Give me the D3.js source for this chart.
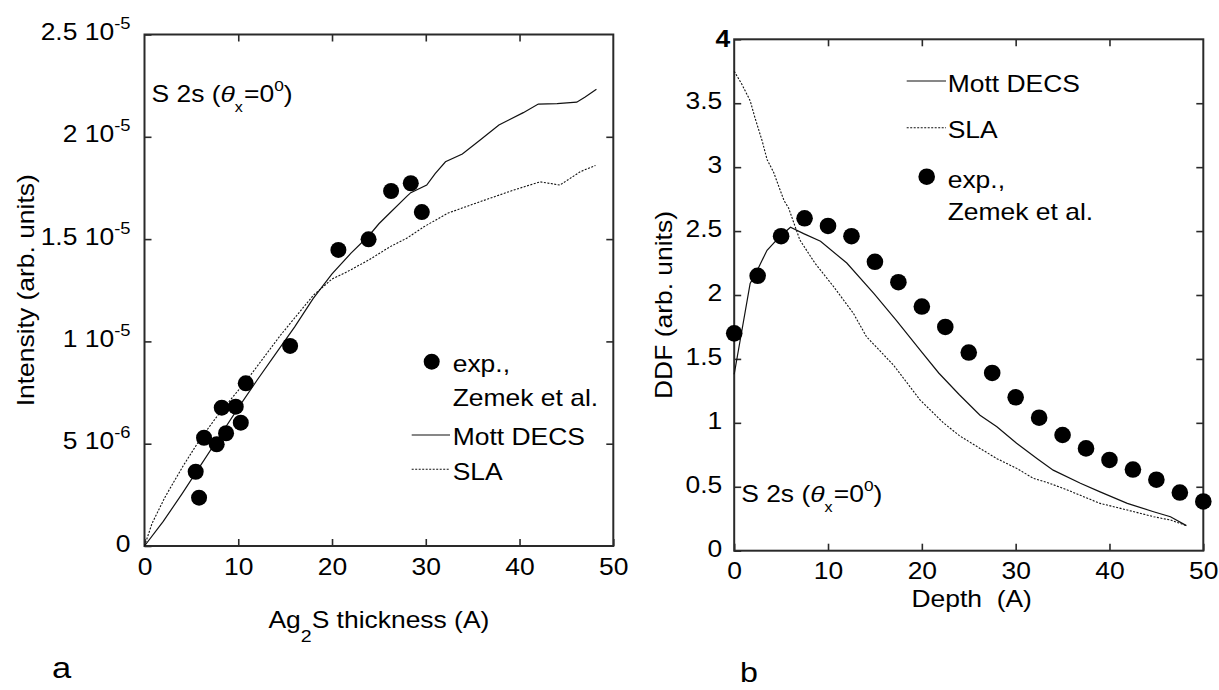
<!DOCTYPE html>
<html><head><meta charset="utf-8">
<script src="https://cdn.jsdelivr.net/npm/d3@7/dist/d3.min.js"></script>
<style>html,body{margin:0;padding:0;background:#fff;}svg{display:block;}</style>
</head><body>
<svg id="chart" width="1219" height="690"></svg>
<script>
// ---------- DATA (panel a) ----------
const expThick = [5.46, 5.82, 6.35, 7.7, 8.24, 8.7, 9.73, 10.27, 10.8, 15.53, 20.68, 23.9, 26.3, 28.4, 29.58];
const expIntensity = [3.63e-6, 2.36e-6, 5.29e-6, 4.97e-6, 6.76e-6, 5.51e-6, 6.81e-6, 6.03e-6, 7.95e-6, 9.78e-6, 14.47e-6, 14.99e-6, 17.35e-6, 17.73e-6, 16.32e-6];
const mottThick = [0, 2, 4, 6, 8, 10, 12, 14, 16, 18, 19, 20, 22, 24, 25, 26, 28, 28.4, 30.1, 31, 32.1, 33.9, 35.8, 37.8, 40.4, 42.0, 44, 46.1, 47, 48.2];
const mottIntensity = [0, 1.2e-6, 2.55e-6, 3.95e-6, 5.35e-6, 6.75e-6, 8.1e-6, 9.4e-6, 10.7e-6, 12.1e-6, 12.7e-6, 13.3e-6, 14.3e-6, 15.2e-6, 15.75e-6, 16.2e-6, 17.1e-6, 17.27e-6, 17.64e-6, 18.2e-6, 18.78e-6, 19.16e-6, 19.84e-6, 20.58e-6, 21.18e-6, 21.6e-6, 21.62e-6, 21.69e-6, 21.95e-6, 22.32e-6];
const slaThick = [0, 0.8, 2.2, 4.1, 5.9, 8, 10.9, 14.5, 18, 20, 21.6, 24, 26.2, 28, 29.8, 32.3, 35.8, 39.4, 42.2, 44.3, 46.5, 48.1];
const slaIntensity = [0, 1.1e-6, 2.4e-6, 3.9e-6, 5.2e-6, 6.5e-6, 8.1e-6, 10.3e-6, 12.25e-6, 13.05e-6, 13.4e-6, 14.0e-6, 14.63e-6, 15.05e-6, 15.6e-6, 16.26e-6, 16.83e-6, 17.4e-6, 17.8e-6, 17.64e-6, 18.3e-6, 18.6e-6];
const aXTicks = [0, 10, 20, 30, 40, 50];
const aYTicks = [0, 5e-6, 1e-5, 1.5e-5, 2e-5, 2.5e-5];
const aYTickMant = ["0", "5 10", "1 10", "1.5 10", "2 10", "2.5 10"];
const aYTickExp = ["", "-6", "-5", "-5", "-5", "-5"];

// ---------- DATA (panel b) ----------
const expDepth = [0, 2.5, 5, 7.5, 10, 12.5, 15, 17.5, 20, 22.5, 25, 27.5, 30, 32.5, 35, 37.5, 40, 42.5, 45, 47.5, 50];
const expDDF = [1.70, 2.15, 2.46, 2.60, 2.54, 2.46, 2.26, 2.10, 1.91, 1.75, 1.55, 1.39, 1.20, 1.04, 0.905, 0.80, 0.71, 0.635, 0.555, 0.455, 0.385];
const mottDepth = [0, 1.7, 2.5, 3.5, 4.9, 6.0, 7.4, 9.2, 12.0, 14.9, 17.3, 19.8, 21.8, 24.0, 26.2, 28.0, 30.1, 32.3, 34.0, 36.9, 39.0, 41.9, 44.7, 46.5, 48.2];
const mottDDF = [1.38, 2.09, 2.2, 2.35, 2.46, 2.53, 2.48, 2.42, 2.25, 2.01, 1.80, 1.57, 1.39, 1.22, 1.06, 0.97, 0.84, 0.72, 0.63, 0.527, 0.46, 0.37, 0.305, 0.266, 0.196];
const slaDepth = [0, 0.8, 1.7, 2.2, 3.0, 3.5, 4.2, 5.3, 5.8, 7.0, 8.6, 10.6, 12.7, 14.1, 17.0, 19.8, 22.3, 24.0, 26.2, 28.0, 30.1, 31.9, 33.5, 35.5, 39.0, 41.9, 44.7, 46.5, 48.2];
const slaDDF = [3.75, 3.65, 3.52, 3.39, 3.2, 3.06, 2.96, 2.74, 2.68, 2.43, 2.25, 2.065, 1.857, 1.674, 1.45, 1.18, 1.0, 0.90, 0.80, 0.72, 0.644, 0.566, 0.53, 0.475, 0.37, 0.318, 0.266, 0.24, 0.196];
const bXTicks = [0, 10, 20, 30, 40, 50];
const bYTicks = [0, 0.5, 1, 1.5, 2, 2.5, 3, 3.5, 4];
const bYTickLabels = ["0", "0.5", "1", "1.5", "2", "2.5", "3", "3.5", "4"];

// ---------- STYLE ----------
const FONT = "'Liberation Sans', Arial, Helvetica, sans-serif";
const FS = 23, SX = 1.15;
const AXC = "#2a2a2a", TXT = "#000";
const svg = d3.select("#chart").style("font-family", FONT);

function plotFrame(g, x, y, w, h) {
  g.append("rect").attr("x", x).attr("y", y).attr("width", w).attr("height", h)
    .attr("fill", "none").attr("stroke", AXC).attr("stroke-width", 2);
}
function styleAxis(sel) {
  sel.select(".domain").remove();
  sel.selectAll(".tick line").attr("stroke", AXC).attr("stroke-width", 1.6);
  sel.selectAll(".tick text").attr("fill", TXT).style("font-size", FS + "px").style("font-family", FONT);
}
function thetaLabel(g, x, y) {
  const t = g.append("text").attr("x", x).attr("y", y).attr("fill", TXT).style("font-size", FS + "px");
  t.append("tspan").text("S 2s (");
  t.append("tspan").style("font-style", "italic").style("font-family", "'Liberation Sans', Arial").style("font-weight", "300").text("θ");
  t.append("tspan").attr("dy", 10).style("font-size", "14px").text("x");
  t.append("tspan").attr("dy", -10).attr("dx", 1).text("=0");
  t.append("tspan").attr("dy", -11).style("font-size", "15px").text("0");
  t.append("tspan").attr("dy", 11).text(")");
}

// ================= PANEL A =================
const A = {l: 144.5, r: 613.3, t: 34.5, b: 546};
const xa = d3.scaleLinear().domain([0, 50]).range([A.l, A.r]);
const ya = d3.scaleLinear().domain([0, 2.5e-5]).range([A.b, A.t]);
const ga = svg.append("g");

ga.append("g").attr("transform", `translate(0,${A.b})`)
  .call(d3.axisBottom(xa).tickValues(aXTicks).tickSizeInner(-7).tickSizeOuter(0).tickPadding(13).tickFormat(d => String(d)))
  .call(styleAxis);
ga.append("g").attr("transform", `translate(0,${A.t})`)
  .call(d3.axisTop(xa).tickValues(aXTicks.slice(1, -1)).tickSizeInner(-7).tickSizeOuter(0).tickFormat(""))
  .call(styleAxis);
const ayAxis = ga.append("g").attr("transform", `translate(${A.l},0)`)
  .call(d3.axisLeft(ya).tickValues(aYTicks).tickSizeInner(-7).tickSizeOuter(0).tickPadding(14).tickFormat(""))
  .call(styleAxis);
ayAxis.selectAll(".tick text").attr("dy", "0.22em").each(function(d, i) {
  const t = d3.select(this);
  t.append("tspan").text(aYTickMant[i]);
  if (aYTickExp[i]) t.append("tspan").attr("dy", -11).style("font-size", "16px").text(aYTickExp[i]);
});
ga.append("g").attr("transform", `translate(${A.r},0)`)
  .call(d3.axisRight(ya).tickValues(aYTicks.slice(1, -1)).tickSizeInner(-7).tickSizeOuter(0).tickFormat(""))
  .call(styleAxis);
plotFrame(ga, A.l, A.t, A.r - A.l, A.b - A.t);

const lineA = (xs, ys) => d3.line().x((d, i) => xa(xs[i])).y((d, i) => ya(ys[i]))(xs);
ga.append("path").attr("d", lineA(mottThick, mottIntensity)).attr("fill", "none").attr("stroke", "#111").attr("stroke-width", 1.2);
ga.append("path").attr("d", lineA(slaThick, slaIntensity)).attr("fill", "none").attr("stroke", "#111").attr("stroke-width", 1.1).attr("stroke-dasharray", "2,1.5");
ga.selectAll("circle.exp").data(expThick).join("circle").attr("class", "exp")
  .attr("cx", d => xa(d)).attr("cy", (d, i) => ya(expIntensity[i])).attr("r", 8).attr("fill", "#000");

thetaLabel(ga, A.l + 7, 102);

// legend a
ga.append("circle").attr("cx", 431.7).attr("cy", 361.7).attr("r", 8).attr("fill", "#000");
ga.append("text").attr("x", 452.7).attr("y", 371.7).attr("fill", TXT).style("font-size", FS + "px").text("exp.,");
ga.append("text").attr("x", 452.7).attr("y", 406).attr("fill", TXT).style("font-size", FS + "px").text("Zemek et al.");
ga.append("line").attr("x1", 411.7).attr("x2", 450).attr("y1", 435).attr("y2", 435).attr("stroke", "#111").attr("stroke-width", 1.2);
ga.append("text").attr("x", 452.7).attr("y", 445).attr("fill", TXT).style("font-size", FS + "px").text("Mott DECS");
ga.append("line").attr("x1", 411.7).attr("x2", 450).attr("y1", 469.3).attr("y2", 469.3).attr("stroke", "#111").attr("stroke-width", 1.1).attr("stroke-dasharray", "2,1.5");
ga.append("text").attr("x", 452.7).attr("y", 480).attr("fill", TXT).style("font-size", FS + "px").text("SLA");

// axis titles a
const xta = ga.append("text").attr("x", (A.l + A.r) / 2).attr("y", 628).attr("text-anchor", "middle").attr("fill", TXT).style("font-size", FS + "px");
xta.append("tspan").text("Ag");
xta.append("tspan").attr("dy", 14).style("font-size", "17px").text("2");
xta.append("tspan").attr("dy", -14).text("S thickness (A)");
ga.append("text").attr("transform", `translate(33.5,${(A.t + A.b) / 2}) rotate(-90)`).attr("text-anchor", "middle")
  .attr("fill", TXT).style("font-size", FS + "px").text("Intensity (arb. units)");
ga.append("text").attr("x", 52).attr("y", 678).attr("fill", TXT).style("font-size", "30px").text("a");

// ================= PANEL B =================
const B = {l: 734.2, r: 1203.3, t: 39.3, b: 550.7};
const xb = d3.scaleLinear().domain([0, 50]).range([B.l, B.r]);
const yb = d3.scaleLinear().domain([0, 4]).range([B.b, B.t]);
const gb = svg.append("g");

gb.append("g").attr("transform", `translate(0,${B.b})`)
  .call(d3.axisBottom(xb).tickValues(bXTicks).tickSizeInner(-7).tickSizeOuter(0).tickPadding(12).tickFormat(d => String(d)))
  .call(styleAxis);
gb.append("g").attr("transform", `translate(0,${B.t})`)
  .call(d3.axisTop(xb).tickValues(bXTicks.slice(1, -1)).tickSizeInner(-7).tickSizeOuter(0).tickFormat(""))
  .call(styleAxis);
const byAxis = gb.append("g").attr("transform", `translate(${B.l},0)`)
  .call(d3.axisLeft(yb).tickValues(bYTicks).tickSizeInner(-7).tickSizeOuter(0).tickPadding(12).tickFormat((d, i) => bYTickLabels[i]))
  .call(styleAxis);
byAxis.selectAll(".tick text").attr("dy", "0.24em");
byAxis.selectAll(".tick").filter(d => d === 4).select("text").style("font-weight", "bold").attr("x", -4).attr("dy", "0.3em");
gb.append("g").attr("transform", `translate(${B.r},0)`)
  .call(d3.axisRight(yb).tickValues(bYTicks.slice(1, -1)).tickSizeInner(-7).tickSizeOuter(0).tickFormat(""))
  .call(styleAxis);
plotFrame(gb, B.l, B.t, B.r - B.l, B.b - B.t);

const lineB = (xs, ys) => d3.line().x((d, i) => xb(xs[i])).y((d, i) => yb(ys[i]))(xs);
gb.append("path").attr("d", lineB(mottDepth, mottDDF)).attr("fill", "none").attr("stroke", "#111").attr("stroke-width", 1.2);
gb.append("path").attr("d", lineB(slaDepth, slaDDF)).attr("fill", "none").attr("stroke", "#111").attr("stroke-width", 1.1).attr("stroke-dasharray", "2,1.5");
gb.selectAll("circle.exp").data(expDepth).join("circle").attr("class", "exp")
  .attr("cx", d => xb(d)).attr("cy", (d, i) => yb(expDDF[i])).attr("r", 8.3).attr("fill", "#000");

thetaLabel(gb, B.l + 7, 502);

// legend b
gb.append("line").attr("x1", 906.7).attr("x2", 946).attr("y1", 81).attr("y2", 81).attr("stroke", "#111").attr("stroke-width", 1.2);
gb.append("text").attr("x", 947.7).attr("y", 91.7).attr("fill", TXT).style("font-size", FS + "px").text("Mott DECS");
gb.append("line").attr("x1", 906.7).attr("x2", 946).attr("y1", 127.7).attr("y2", 127.7).attr("stroke", "#111").attr("stroke-width", 1.1).attr("stroke-dasharray", "2,1.5");
gb.append("text").attr("x", 947.7).attr("y", 138.3).attr("fill", TXT).style("font-size", FS + "px").text("SLA");
gb.append("circle").attr("cx", 926.7).attr("cy", 176.7).attr("r", 8.3).attr("fill", "#000");
gb.append("text").attr("x", 947.7).attr("y", 188).attr("fill", TXT).style("font-size", FS + "px").text("exp.,");
gb.append("text").attr("x", 947.7).attr("y", 220).attr("fill", TXT).style("font-size", FS + "px").text("Zemek et al.");

// axis titles b
gb.append("text").attr("x", 971.7).attr("y", 607).attr("text-anchor", "middle").attr("fill", TXT)
  .style("font-size", FS + "px").style("white-space", "pre").attr("xml:space", "preserve").text("Depth  (A)");
gb.append("text").attr("transform", `translate(671.5,305) rotate(-90)`).attr("text-anchor", "middle")
  .attr("fill", TXT).style("font-size", FS + "px").text("DDF (arb. units)");
gb.append("text").attr("x", 740).attr("y", 682).attr("fill", TXT).style("font-size", "28px").text("b");

// ---------- horizontal stretch of all text (wide sans look) ----------
svg.selectAll("text").each(function() {
  const t = d3.select(this);
  const x = +t.attr("x") || 0, y = +t.attr("y") || 0;
  const tr = t.attr("transform") || "";
  t.attr("transform", `${tr} translate(${x},${y}) scale(${SX},1) translate(${-x},${-y})`);
});
</script>
</body></html>
